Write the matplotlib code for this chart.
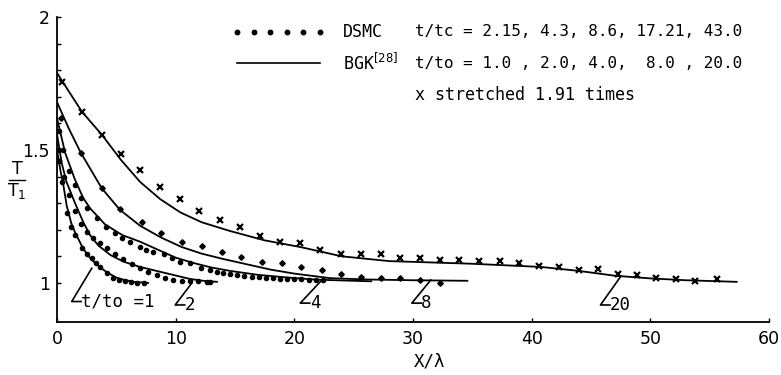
import numpy as np
import matplotlib
matplotlib.use("Agg")
import matplotlib.pyplot as plt
from matplotlib.lines import Line2D

plt.rcParams['font.family'] = ['DejaVu Sans']
plt.rcParams['mathtext.fontset'] = 'dejavusans'
MONO = ['DejaVu Sans Mono', 'DejaVu Sans']

# ---------------- data ----------------
# BGK solutions, t/t0 = 1, 2, 4, 8, 20
bgk1_x = [0, 0.3, 0.53, 0.82, 1.2, 1.52, 2.08, 2.5, 2.9, 3.6, 4.2, 5.0, 5.6, 6.5, 7.7]
bgk1_y = [1.50, 1.42, 1.37, 1.29, 1.225, 1.19, 1.14, 1.11, 1.088, 1.06, 1.04, 1.02, 1.012, 1.004, 1.0]

bgk2_x = [0, 0.4, 0.8, 1.52, 2.2, 2.78, 3.5, 4.5, 5.6, 7.0, 8.4, 9.8, 11.2, 12.3, 13.5]
bgk2_y = [1.56, 1.45, 1.38, 1.30, 1.23, 1.18, 1.14, 1.105, 1.08, 1.06, 1.045, 1.03, 1.015, 1.008, 1.004]

bgk4_x = [0, 0.68, 1.5, 2.2, 2.8, 4.05, 5.5, 7.0, 8.5, 10.0, 11.5, 13.0, 14.6, 17.0, 19.5, 22.0, 25.0, 26.5]
bgk4_y = [1.62, 1.49, 1.39, 1.32, 1.28, 1.22, 1.18, 1.155, 1.125, 1.095, 1.075, 1.058, 1.045, 1.03, 1.02, 1.012, 1.008, 1.006]

bgk8_x = [0, 1.0, 2.0, 3.77, 5.3, 7.0, 8.8, 10.5, 12.2, 14.0, 16.0, 18.0, 20.0, 23.0, 26.0, 30.0, 34.6]
bgk8_y = [1.68, 1.58, 1.49, 1.356, 1.275, 1.215, 1.17, 1.135, 1.11, 1.09, 1.07, 1.05, 1.035, 1.018, 1.013, 1.01, 1.008]

bgk20_x = [0, 1.0, 2.1, 3.8, 5.4, 7.0, 8.7, 10.4, 12.2, 14.6, 17.5, 20.5, 24.0, 28.0, 35.0, 40.8, 44.0, 47.0, 50.0, 53.0, 57.3]
bgk20_y = [1.79, 1.72, 1.644, 1.556, 1.462, 1.38, 1.315, 1.265, 1.228, 1.195, 1.16, 1.135, 1.10, 1.082, 1.072, 1.06, 1.045, 1.027, 1.017, 1.01, 1.004]

# DSMC, t/tc = 2.15, 4.3, 8.6 (dots), 17.21 (diamonds), 43.0 (crosses, x stretched 1.91 times)
dsmc1_x = [0.15, 0.4, 0.82, 1.2, 1.52, 2.08, 2.5, 2.93, 3.3, 3.63, 4.2, 4.7, 5.2, 5.7, 6.2, 6.7, 7.3]
dsmc1_y = [1.46, 1.38, 1.262, 1.21, 1.18, 1.13, 1.11, 1.093, 1.075, 1.06, 1.036, 1.02, 1.012, 1.006, 1.003, 1.001, 1.0]

dsmc2_x = [0.2, 0.6, 1.0, 1.5, 2.0, 2.5, 3.06, 3.6, 4.2, 4.9, 5.6, 6.3, 7.0, 7.7, 8.4, 9.1, 9.8, 10.5, 11.2, 11.9, 12.6, 12.9]
dsmc2_y = [1.50, 1.40, 1.33, 1.27, 1.22, 1.19, 1.168, 1.15, 1.13, 1.11, 1.09, 1.07, 1.055, 1.042, 1.03, 1.02, 1.011, 1.009, 1.008, 1.006, 1.005, 1.005]

dsmc4_x = [0.2, 0.5, 1.0, 1.5, 2.0, 2.5, 3.35, 4.1, 4.9, 5.5, 6.16, 7.0, 7.5, 8.1, 9.0, 9.7, 10.4, 11.2, 12.1, 12.9,
           13.5, 14.0, 14.6, 15.2, 15.8, 16.4, 17.0, 17.6, 18.2, 18.8, 19.4, 20.0, 20.6, 21.2, 21.8, 22.4]
dsmc4_y = [1.57, 1.50, 1.42, 1.37, 1.32, 1.28, 1.243, 1.21, 1.187, 1.17, 1.155, 1.136, 1.125, 1.118, 1.11, 1.095, 1.08, 1.074, 1.055, 1.049,
           1.042, 1.038, 1.032, 1.03, 1.027, 1.024, 1.022, 1.02, 1.018, 1.016, 1.015, 1.014, 1.013, 1.012, 1.011, 1.01]

dsmc8_x = [0.34, 2.0, 3.77, 5.3, 7.15, 8.8, 10.5, 12.2, 13.9, 15.5, 17.3, 19.0, 20.6, 22.3, 23.9, 25.6, 27.3, 28.9, 30.6, 32.3]
dsmc8_y = [1.62, 1.49, 1.356, 1.277, 1.228, 1.187, 1.153, 1.137, 1.118, 1.097, 1.08, 1.074, 1.06, 1.049, 1.033, 1.024, 1.018, 1.018, 1.011, 1.0]

dsmc20_x = [0.4, 2.08, 3.77, 5.4, 7.0, 8.7, 10.4, 12.0, 13.76, 15.4, 17.1, 18.8, 20.5, 22.2, 23.9, 25.6, 27.3, 28.9, 30.6,
            32.3, 33.9, 35.6, 37.3, 38.9, 40.6, 42.3, 44.0, 45.6, 47.3, 48.9, 50.5, 52.2, 53.8, 55.6]
dsmc20_y = [1.757, 1.644, 1.556, 1.484, 1.425, 1.362, 1.315, 1.27, 1.237, 1.209, 1.178, 1.153, 1.149, 1.124, 1.109, 1.109, 1.109, 1.093, 1.093,
            1.086, 1.086, 1.083, 1.083, 1.074, 1.065, 1.058, 1.049, 1.051, 1.034, 1.03, 1.018, 1.014, 1.009, 1.016]

x_ticks = [0, 10, 20, 30, 40, 50, 60]
y_ticklabels = {1.0: '1', 1.5: '1.5', 2.0: '2'}

# ---------------- figure ----------------
W, H = 781, 375
fig = plt.figure(figsize=(W / 100, H / 100), dpi=100)
ax = fig.add_axes([57 / W, 1 - 322 / H, (769 - 57) / W, (322 - 17) / H])

lw = 1.3
for xs, ys in [(bgk1_x, bgk1_y), (bgk2_x, bgk2_y), (bgk4_x, bgk4_y), (bgk8_x, bgk8_y), (bgk20_x, bgk20_y)]:
    ax.plot(xs, ys, color='black', lw=lw, solid_capstyle='round')

for xs, ys in [(dsmc1_x, dsmc1_y), (dsmc2_x, dsmc2_y), (dsmc4_x, dsmc4_y)]:
    ax.plot(xs, ys, ls='none', marker='o', ms=3.0, color='black')
ax.plot(dsmc8_x, dsmc8_y, ls='none', marker='D', ms=2.8, color='black')
ax.plot(dsmc20_x, dsmc20_y, ls='none', marker='x', ms=4.5, mew=1.6, color='black')

ax.set_xlim(0, 60)
ax.set_ylim(0.853, 2.0)
for s in ['top', 'right']:
    ax.spines[s].set_visible(False)
for s in ['left', 'bottom']:
    ax.spines[s].set_linewidth(1.3)

ax.set_xticks(x_ticks)
ax.set_xticklabels([str(v) for v in x_ticks])
yt = np.round(np.arange(1.0, 2.001, 0.1), 2)
ax.set_yticks(yt)
ax.set_yticklabels([y_ticklabels.get(float(v), '') for v in yt])
ax.tick_params(axis='both', direction='in', length=3, width=1.0, labelsize=12.5, colors='black')
ax.tick_params(axis='x', pad=6)
ax.tick_params(axis='y', pad=5)

# axis labels
fig.text(430 / W, 1 - 362 / H, 'X/λ', ha='center', va='center', fontsize=12.5, family=MONO)
fig.text(17 / W, 1 - 169 / H, 'T', ha='center', va='center', fontsize=12.5)
fig.add_artist(Line2D([9 / W, 25 / W], [1 - 180 / H, 1 - 180 / H], color='black', lw=1.0))
fig.text(17 / W, 1 - 191 / H, 'T$_1$', ha='center', va='center', fontsize=12.5)

# pointer annotations (vertex, tip, label)
pointers = [((1.24, 0.93), (2.93, 1.055), 't/to =1'),
            ((9.96, 0.917), (11.37, 1.0), '2'),
            ((20.5, 0.924), (22.2, 1.005), '4'),
            ((29.9, 0.924), (31.5, 1.011), '8'),
            ((45.8, 0.917), (47.5, 1.024), '20')]
for (vx, vy), (tx, ty), lab in pointers:
    ax.plot([tx, vx, vx + 0.8], [ty, vy, vy], color='black', lw=1.2, clip_on=False)
    ax.text(vx + 0.8, vy, lab, ha='left', va='center', fontsize=12.5, family=MONO)

# legend block
fs = 11.5
y1, y2, y3 = 1 - 32 / H, 1 - 63 / H, 1 - 95 / H
fig.add_artist(Line2D(np.linspace(237, 320, 6) / W, [y1] * 6, ls='none', marker='o', ms=3.2, color='black'))
fig.add_artist(Line2D([237 / W, 320 / W], [y2, y2], color='black', lw=1.2))
fig.text(343 / W, y1, 'DSMC', ha='left', va='center', fontsize=fs + 0.5, family=MONO)
fig.text(343 / W, y2, 'BGK$^{[28]}$', ha='left', va='center', fontsize=fs + 0.5, family=MONO)
fig.text(415 / W, y1, 't/tc = 2.15, 4.3, 8.6, 17.21, 43.0', ha='left', va='center', fontsize=fs, family=MONO)
fig.text(415 / W, y2, 't/to = 1.0 , 2.0, 4.0,  8.0 , 20.0', ha='left', va='center', fontsize=fs, family=MONO)
fig.text(415 / W, y3, 'x stretched 1.91 times', ha='left', va='center', fontsize=fs + 0.5, family=MONO)

fig.savefig('out.png', dpi=100)
